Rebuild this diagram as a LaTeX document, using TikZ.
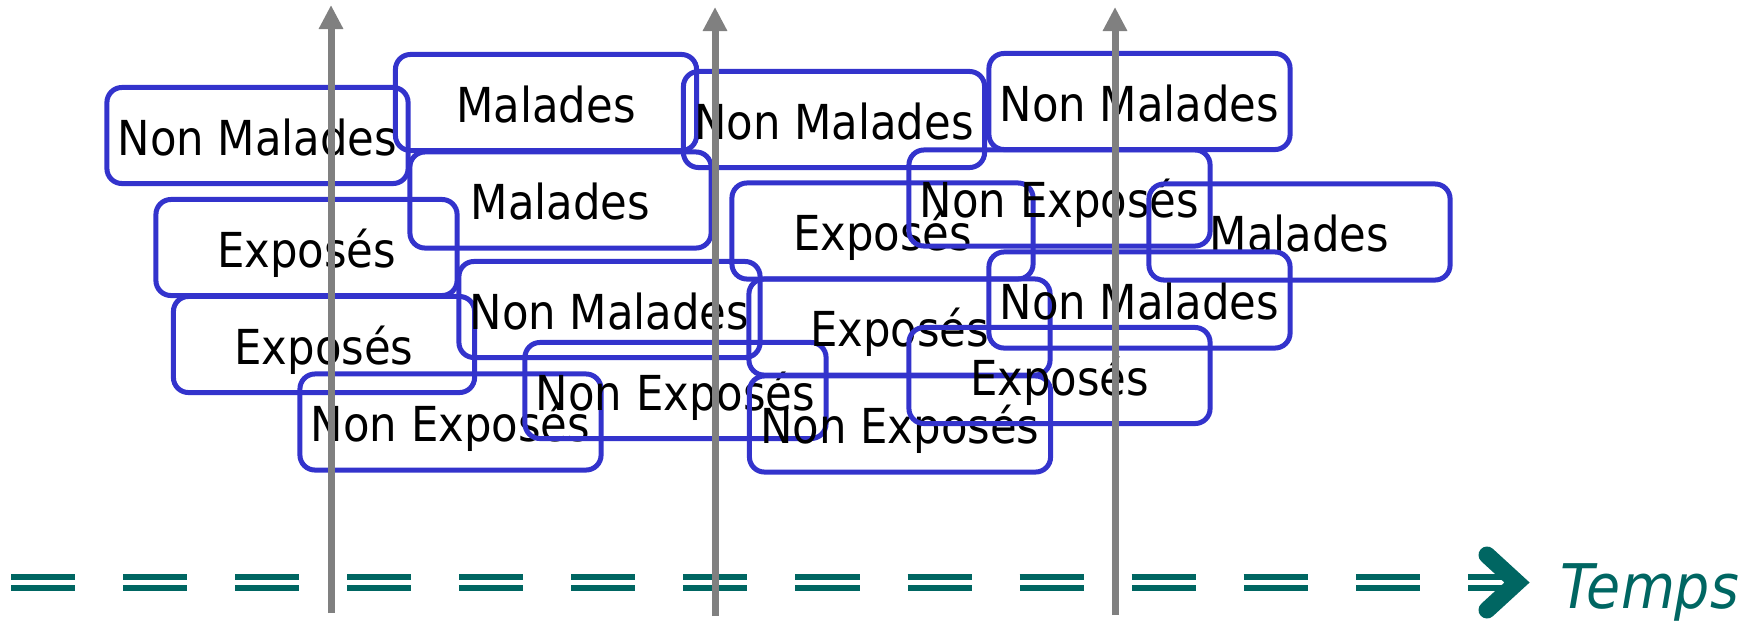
\documentclass[tikz,border=0pt]{standalone}
\usepackage{fontspec}
\setmainfont{DejaVu Sans Condensed}
\usepackage{tikz}
\usetikzlibrary{arrows.meta,positioning}
\definecolor{boxblue}{RGB}{51,51,204}
\definecolor{timeteal}{RGB}{0,102,98}

\begin{document}
\begin{tikzpicture}[
                x=0.01cm,y=-0.01cm,
                etat/.style={draw=boxblue,line width=0.05cm,rounded corners=0.15cm,minimum width=3.01cm,minimum height=0.96cm,inner sep=0pt,text height=0.39cm,text depth=0pt,font=\fontsize{13.7}{16}\selectfont},
                axe/.style={draw=gray,line width=0.07cm,-{Triangle[width=0.23cm,length=0.24cm]}},
                temps/.style={draw=timeteal,line width=0.053cm,double=white,double distance=0.057cm,dash pattern=on 0.64cm off 0.48cm}
            ]
                \useasboundingbox (0,0) rectangle (1752,621);
                \begin{scope}
                    \node (a) [etat] at (257.5,135.5) {Non Malades};
                    \node (b) [etat] at (306.5,247.5) {Exposés};
                    \node (c) [etat] at (324,344.5) {Exposés};
                    \node (d) [etat] at (450.5,422) {Non Exposés};
                \end{scope}
                \begin{scope}
                    \node (e) [etat] at (546,102.5) {Malades};
                    \node (f) [etat] at (560.5,200) {Malades};
                    \node (g) [etat] at (609.5,309.5) {Non Malades};
                    \node (h) [etat] at (675.5,390.5) {Non Exposés};
                \end{scope}
                \begin{scope}
                    \node (i) [etat] at (834,119.5) {Non Malades};
                    \node (j) [etat] at (882.5,231) {Exposés};
                    \node (k) [etat] at (899.5,327) {Exposés};
                    \node (l) [etat] at (900,424) {Non Exposés};
                \end{scope}
                \begin{scope}
                    \node (m) [etat] at (1139.5,101.5) {Non Malades};
                    \node (n) [etat] at (1059.5,198) {Non Exposés};
                    \node (o) [etat] at (1299.5,232) {Malades};
                    \node (p) [etat] at (1139.5,300) {Non Malades};
                    \node (q) [etat] at (1059.5,375.5) {Exposés};
                \end{scope}
                \coordinate (debut) at (11,582.5);
                \coordinate (fin) at (1517,582.5);
                \draw [temps] (debut) -- (fin);
                \draw [timeteal,line width=0.17cm,line cap=round] (1487,555) -- (fin) -- (1487,610);
                \node (temps) [anchor=base west,inner sep=0pt,text=timeteal,font=\itshape\fontsize{17.5}{20}\selectfont] at (1560,608) {Temps};
                \foreach \n/\x/\yb/\yt in {1/331/613/5,2/715/616/7,3/1115/615/7} {
                    \coordinate (bas\n) at (\x,\yb);
                    \coordinate (haut\n) at (\x,\yt);
                    \draw [axe] (bas\n) -- (haut\n);
                }
            \end{tikzpicture}
\end{document}
